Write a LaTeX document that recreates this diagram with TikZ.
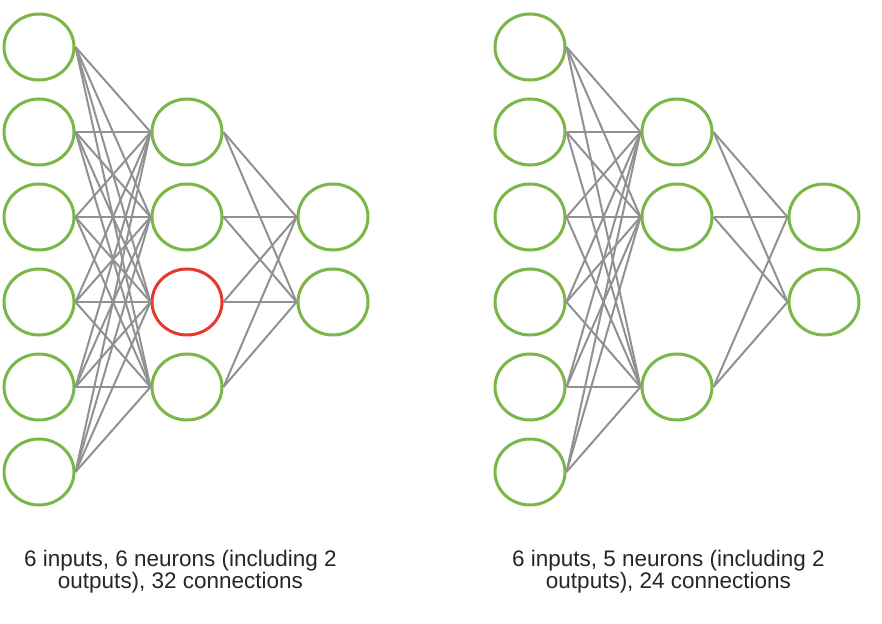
\documentclass[tikz,border=0pt]{standalone}
\usepackage{fontspec}
\setmainfont{Liberation Sans}
\usetikzlibrary{shapes.geometric}
\definecolor{nodegreen}{RGB}{122,182,72}
\definecolor{nodered}{RGB}{229,57,47}
\definecolor{edgegray}{RGB}{145,145,145}
\tikzstyle{neuron} = [ellipse, draw=nodegreen, line width=0.06cm, minimum width=1.40cm, minimum height=1.32cm, inner sep=0pt]
\tikzstyle{dropped} = [neuron, draw=nodered]
\tikzstyle{caption} = [align=center, text=black!85, font=\fontsize{12.8}{12.6}\selectfont]
\tikzset{edge/.style = {
    draw=edgegray,
    line width=0.04cm,
  }
}

\begin{document}
\begin{tikzpicture}[x=0.02cm, y=-0.02cm]
            \useasboundingbox (0,0) rectangle (882,624);
            % left net: vertices
            \node[neuron] (i1) at (39 , 47) {};
            \node[neuron] (i2) at (39 , 132) {};
            \node[neuron] (i3) at (39 , 217) {};
            \node[neuron] (i4) at (39 , 302) {};
            \node[neuron] (i5) at (39 , 387) {};
            \node[neuron] (i6) at (39 , 472) {};
            \node[neuron] (h1) at (187 , 132) {};
            \node[neuron] (h2) at (187 , 217) {};
            \node[dropped] (h3) at (187 , 302) {};
            \node[neuron] (h4) at (187 , 387) {};
            \node[neuron] (o1) at (333 , 217) {};
            \node[neuron] (o2) at (333 , 302) {};

            % right net: vertices
            \node[neuron] (ri1) at (530 , 47) {};
            \node[neuron] (ri2) at (530 , 132) {};
            \node[neuron] (ri3) at (530 , 217) {};
            \node[neuron] (ri4) at (530 , 302) {};
            \node[neuron] (ri5) at (530 , 387) {};
            \node[neuron] (ri6) at (530 , 472) {};
            \node[neuron] (rh1) at (677 , 132) {};
            \node[neuron] (rh2) at (677 , 217) {};
            \node[neuron] (rh3) at (677 , 387) {};
            \node[neuron] (ro1) at (824 , 217) {};
            \node[neuron] (ro2) at (824 , 302) {};

            %edges
            \foreach \i in {1,...,6}
              \foreach \h in {1,...,4}
                \draw[edge] (i\i.east) -- (h\h.west);
            \foreach \h in {1,...,4}
              \foreach \o in {1,2}
                \draw[edge] (h\h.east) -- (o\o.west);
            \foreach \i in {1,...,6}
              \foreach \h in {1,2,3}
                \draw[edge] (ri\i.east) -- (rh\h.west);
            \foreach \h in {1,2,3}
              \foreach \o in {1,2}
                \draw[edge] (rh\h.east) -- (ro\o.west);

            %captions
            \node[caption] (c1) at (180.5 , 572) {6 inputs, 6 neurons (including 2\\outputs), 32 connections};
            \node[caption] (c2) at (668.5 , 572) {6 inputs, 5 neurons (including 2\\outputs), 24 connections};
\end{tikzpicture}
\end{document}
